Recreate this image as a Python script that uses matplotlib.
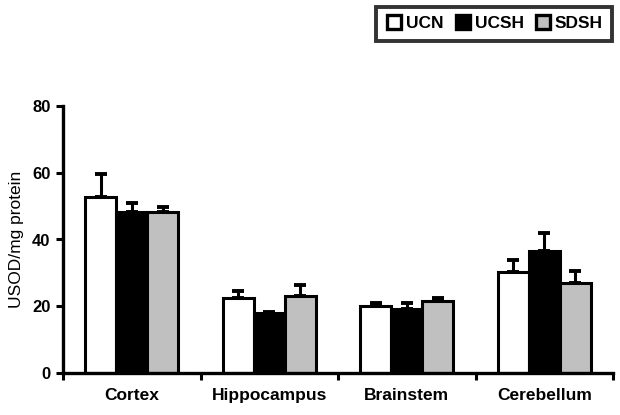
import matplotlib
matplotlib.use("Agg")
import matplotlib.pyplot as plt
import numpy as np
from matplotlib.lines import Line2D

categories = ["Cortex", "Hippocampus", "Brainstem", "Cerebellum"]
series = ["UCN", "UCSH", "SDSH"]
ucn = [52.8, 22.4, 20.1, 30.4]
ucn_err = [6.8, 2.3, 0.8, 3.5]
ucsh = [48.3, 18.1, 19.1, 36.6]
ucsh_err = [2.5, 0.3, 1.8, 5.3]
sdsh = [48.1, 23.1, 21.6, 27.1]
sdsh_err = [1.5, 3.4, 0.9, 3.5]
colors = ["white", "black", "#c0c0c0"]
yticks = [0, 20, 40, 60, 80]

plt.rcParams['font.family'] = ['Liberation Sans', 'DejaVu Sans']
fig = plt.figure(figsize=(6.2, 4.15), dpi=100)
ax = fig.add_axes([63/620, 1-373/415, 550/620, 267/415])

x = np.arange(len(categories))
w = 0.225
vals = [ucn, ucsh, sdsh]
errs = [ucn_err, ucsh_err, sdsh_err]
for i, (v, e, c) in enumerate(zip(vals, errs, colors)):
    pos = x + (i - 1) * w
    ax.bar(pos, v, w, color=c, edgecolor="black", linewidth=2.2, zorder=2)
    ax.errorbar(pos, v, yerr=[np.zeros(len(v)), e], fmt="none", ecolor="black",
                elinewidth=2.2, capsize=4.5, capthick=2.8, zorder=1)

ax.set_xlim(-0.5, len(categories) - 0.5)
ax.set_ylim(0, 80)
ax.set_yticks(yticks)
ax.set_yticklabels([str(t) for t in yticks], fontsize=12, fontweight="bold")
ax.set_xticks(np.arange(len(categories) + 1) - 0.5)
ax.set_xticklabels([])
ax.set_xticks(x, minor=True)
ax.set_xticklabels(categories, minor=True, fontsize=12.5, fontweight="bold")
ax.tick_params(axis="x", which="minor", length=0, pad=11)
ax.tick_params(axis="x", which="major", length=5, width=2.2, direction="out")
ax.tick_params(axis="y", length=5, width=2.2, direction="out", pad=4)
for s in ["top", "right"]:
    ax.spines[s].set_visible(False)
for s in ["left", "bottom"]:
    ax.spines[s].set_linewidth(2.4)
ax.set_ylabel("USOD/mg protein", fontsize=12.5, labelpad=6)

handles = [Line2D([], [], marker="s", linestyle="none", markersize=9.5,
                  markerfacecolor=c, markeredgecolor="black", markeredgewidth=2.4)
           for c in colors]
leg = fig.legend(handles, series, loc="upper right", bbox_to_anchor=(621/620, 1+2/415),
                 ncol=3, frameon=True, fancybox=False, handletextpad=0.15,
                 columnspacing=0.65, handlelength=1.0, borderpad=0.55,
                 prop={"weight": "bold", "size": 12.5})
leg.get_frame().set_edgecolor("black")
leg.get_frame().set_linewidth(2.8)

fig.savefig("out.png", dpi=100)
